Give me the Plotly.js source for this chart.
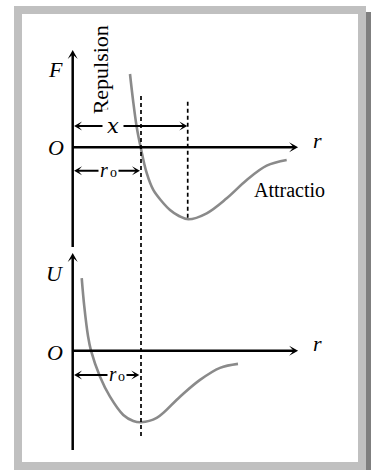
<!DOCTYPE html>
<html><head><meta charset="utf-8">
<script src="https://cdn.plot.ly/plotly-3.0.1.min.js"></script>
<style>html,body{margin:0;padding:0;background:#fff;overflow:hidden}#chart{width:376px;height:470px}</style>
</head><body><div id="chart"></div>
<script>
// Force curve F(r), r in units of r0
const forceR = [0.839, 0.883, 0.937, 0.995, 1.083, 1.180, 1.300, 1.425, 1.556, 1.693, 1.962, 2.255, 2.548, 2.840, 3.133];
const forceF = [1.073, 0.693, 0.297, 0.000, -0.376, -0.625, -0.786, -0.918, -1.006, -1.054, -0.966, -0.747, -0.479, -0.269, -0.186];
// Potential energy curve U(r)
const potR = [0.132, 0.170, 0.224, 0.268, 0.400, 0.546, 0.741, 0.887, 1.000, 1.230, 1.571, 1.864, 2.157, 2.420];
const potU = [1.064, 0.644, 0.215, 0.000, -0.381, -0.673, -0.941, -1.029, -1.048, -0.985, -0.673, -0.428, -0.252, -0.193];
// Key positions
const r0 = 1.0;
const rMinF = 1.684;
const fMin = -1.054;
const labels = {F: 'F', U: 'U', O: 'O', r: 'r', x: 'x', r0: 'r', r0sub: 'o', rep: 'Repulsion', att: 'Attractio'};

const W = 376, H = 470, OX = 72.7, UNIT = 68.3, TOPY = 147.3, BOTY = 350.7;
const px = v => v / W, py = v => 1 - v / H;
const SERIF = 'Liberation Serif, Times New Roman, serif';
const GREY = '#8a8a8a';

const traces = [
  {x: forceR, y: forceF, xaxis: 'x', yaxis: 'y', mode: 'lines', line: {color: GREY, width: 2.6, shape: 'spline', smoothing: 1}, hoverinfo: 'skip'},
  {x: potR, y: potU, xaxis: 'x', yaxis: 'y2', mode: 'lines', line: {color: GREY, width: 2.6, shape: 'spline', smoothing: 1}, hoverinfo: 'skip'}
];

// arrow head (stealth chevron) as a path shape; sizes in pixels
function head(x, y, dir, yr, L, Wd, n) {
  const pts = [[0, 0], [-L, Wd], [-L + n, 0], [-L, -Wd]];
  const d = pts.map(([u, v], i) => {
    let dx, dy;
    if (dir === 'right') { dx = u; dy = v; }
    else if (dir === 'left') { dx = -u; dy = v; }
    else { dx = v; dy = -u; }
    return (i ? 'L' : 'M') + (x + dx / UNIT).toFixed(4) + ',' + (y - dy / UNIT).toFixed(4);
  }).join('') + 'Z';
  return {type: 'path', xref: 'x', yref: yr, path: d, fillcolor: '#000', line: {width: 0}};
}
function seg(x0, y0, x1, y1, yr, w) {
  return {type: 'line', xref: 'x', yref: yr, x0: x0, y0: y0, x1: x1, y1: y1, line: {color: '#000', width: w}};
}
const back = 3 / UNIT;
function axisArrows(yr, yLo, yHi, xHi) {
  return [
    seg(0, yLo, 0, yHi - back, yr, 2.5), head(0, yHi, 'up', yr, 9, 5, 4.5),
    seg(0, 0, xHi - back, 0, yr, 2.5), head(xHi, 0, 'right', yr, 9, 5, 4.5)
  ];
}
function dimArrow(xa, xb, y, yr) {
  return [
    seg(xa + back, y, xb - back, y, yr, 2),
    head(xa, y, 'left', yr, 8, 4.5, 4), head(xb, y, 'right', yr, 8, 4.5, 4)
  ];
}
function label(text, x, y, yr, size, opts) {
  return Object.assign({text: text, x: x, y: y, xref: 'x', yref: yr, showarrow: false,
    font: {family: SERIF, size: size, color: '#000'}}, opts || {});
}
const onLine = {bgcolor: '#fff', borderpad: 1};

const annotations = [
  label(labels.rep, 0.42, 1.132, 'y', 22, {textangle: -90}),
  label(labels.att, 3.167, -0.625, 'y', 20),
  label('<i>' + labels.F + '</i>', -0.259, 1.146, 'y', 22),
  label('<i>' + labels.O + '</i>', -0.245, -0.01, 'y', 22),
  label('<i>' + labels.r + '</i>', 3.59, 0.10, 'y', 22),
  label('<i>' + labels.U + '</i>', -0.259, 1.133, 'y2', 22),
  label('<i>' + labels.O + '</i>', -0.252, -0.03, 'y2', 22),
  label('<i>' + labels.r + '</i>', 3.59, 0.10, 'y2', 22),
  label('<i>' + labels.x + '</i>', 0.59, 0.312, 'y', 21, {bgcolor: '#fff', borderpad: 4, font: {family: 'DejaVu Serif, serif', size: 21, color: '#000'}}),
  // r_o labels: italic r with a small upright o as subscript
  label('<i>' + labels.r0 + '</i>', 0.454, -0.335, 'y', 20, onLine),
  label(labels.r0sub, 0.594, -0.362, 'y', 14, onLine),
  label('<i>' + labels.r0 + '</i>', 0.583, -0.348, 'y2', 20, onLine),
  label(labels.r0sub, 0.714, -0.375, 'y2', 14, onLine)
];

const shapes = [
  {type: 'rect', xref: 'paper', yref: 'paper', x0: px(14), x1: px(366), y0: py(6), y1: py(470), fillcolor: '#c0c0c0', line: {width: 0}, layer: 'below'},
  {type: 'rect', xref: 'paper', yref: 'paper', x0: px(366), x1: px(371), y0: py(12), y1: py(470), fillcolor: '#7f7f7f', line: {width: 0}, layer: 'below'},
  {type: 'rect', xref: 'paper', yref: 'paper', x0: px(22), x1: px(358), y0: py(14), y1: py(462), fillcolor: '#ffffff', line: {width: 0}, layer: 'below'},
  {type: 'line', xref: 'x', yref: 'paper', x0: r0, x1: r0, y0: py(96), y1: py(437), line: {color: '#000', width: 1.7, dash: '4px,3px'}},
  {type: 'line', xref: 'x', yref: 'y', x0: rMinF, x1: rMinF, y0: 0.668, y1: fMin, line: {color: '#000', width: 1.7, dash: '4px,3px'}}
].concat(
  axisArrows('y', -1.46, 1.425, 3.30),
  axisArrows('y2', -1.454, 1.43, 3.30),
  dimArrow(0.02, rMinF - 0.006, 0.312, 'y'),
  dimArrow(0.02, r0 - 0.015, -0.343, 'y'),
  dimArrow(0.02, r0 - 0.025, -0.356, 'y2')
);

const hidden = {visible: false, showgrid: false, zeroline: false, fixedrange: true};
const layout = {
  width: W, height: H, margin: {l: 0, r: 0, t: 0, b: 0, pad: 0},
  paper_bgcolor: '#fff', plot_bgcolor: 'rgba(0,0,0,0)', showlegend: false,
  xaxis: Object.assign({range: [(0 - OX) / UNIT, (W - OX) / UNIT]}, hidden),
  yaxis: Object.assign({range: [(TOPY - H) / UNIT, TOPY / UNIT]}, hidden),
  yaxis2: Object.assign({range: [(BOTY - H) / UNIT, BOTY / UNIT], overlaying: 'y'}, hidden),
  shapes: shapes, annotations: annotations
};
Plotly.newPlot('chart', traces, layout, {staticPlot: true, displayModeBar: false}).then(function (gd) {
  gd.querySelectorAll('text').forEach(function (t) {
    if (!t.textContent.replace(/[\s\u200b]/g, '')) t.remove();
  });
});
</script></body></html>
